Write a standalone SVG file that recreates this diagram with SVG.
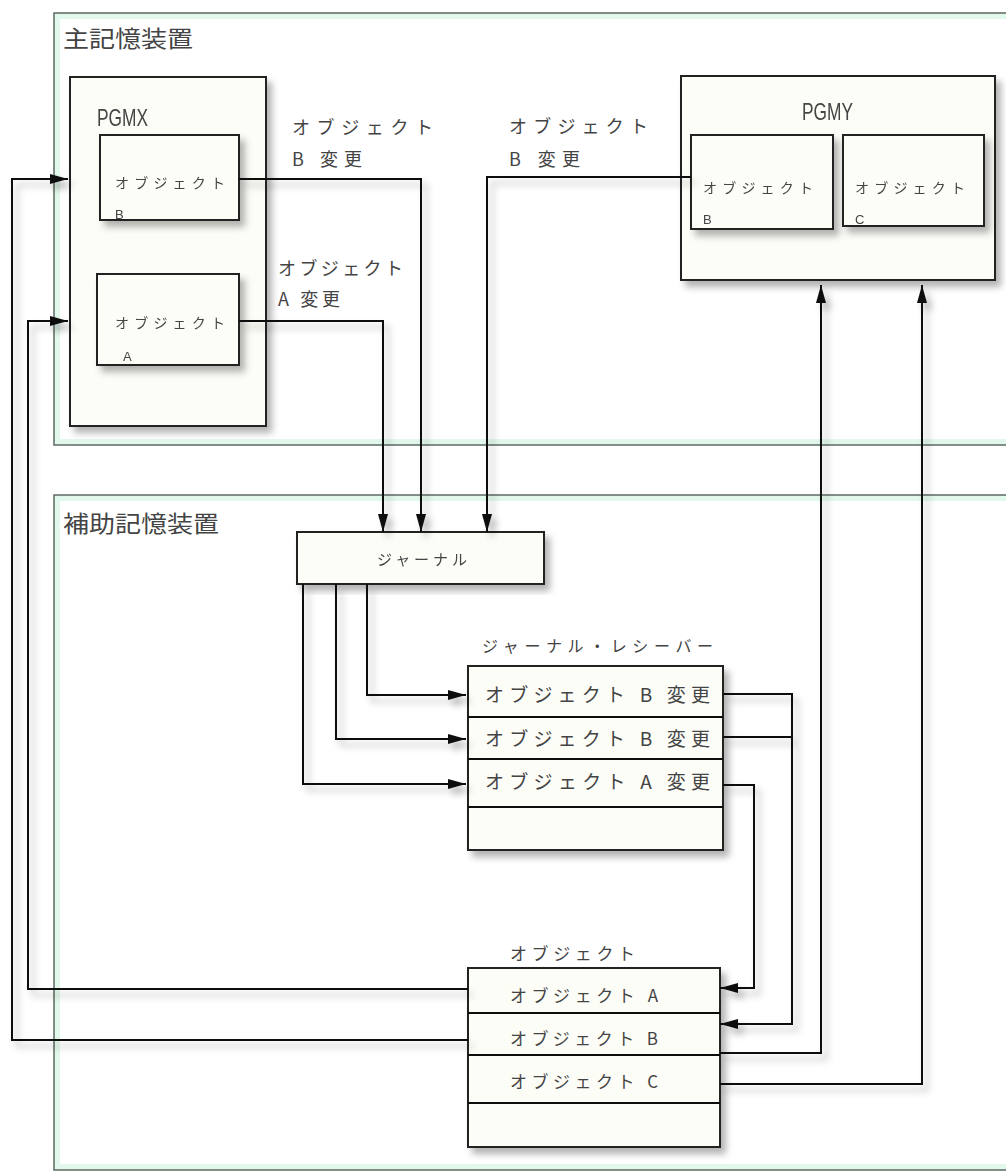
<svg xmlns="http://www.w3.org/2000/svg" width="1006" height="1174" viewBox="0 0 1006 1174">
<defs>
<filter id="sh" x="-10%" y="-10%" width="130%" height="130%">
<feDropShadow dx="5" dy="6" stdDeviation="3.5" flood-color="#000" flood-opacity="0.3"/>
</filter>
<marker id="arr" markerUnits="userSpaceOnUse" markerWidth="20" markerHeight="12" refX="18" refY="5" orient="auto">
<path d="M0,0 L18,5 L0,10 z" fill="#111"/>
</marker>
<style>
.area{fill:none;stroke:#e2f8ec;stroke-width:6}
.areal{fill:none;stroke:#5e6a62;stroke-width:1.5}
.box{fill:#fdfdf8;stroke:#222;stroke-width:2}
.ln{fill:none;stroke:#111;stroke-width:2}
.t{font-family:"Noto Sans CJK JP","Liberation Sans",sans-serif;fill:#444;font-weight:400;dominant-baseline:central}
.l{font-family:"Liberation Sans","Noto Sans CJK JP",sans-serif;fill:#444}
</style>
</defs>
<rect width="1006" height="1174" fill="#fff"/>

<g id="main-storage">
<rect class="area" x="57" y="16" width="1000" height="426"/>
<rect class="areal" x="54" y="13" width="1006" height="432"/>
<text class="t" x="63" y="37" font-size="23" textLength="130" lengthAdjust="spacingAndGlyphs">主記憶装置</text>
</g>
<g id="aux-storage">
<rect class="area" x="57" y="498" width="1000" height="669"/>
<rect class="areal" x="54" y="495" width="1006" height="675"/>
<text class="t" x="63" y="522" font-size="23" textLength="156" lengthAdjust="spacingAndGlyphs">補助記憶装置</text>
</g>

<g id="pgmx" filter="url(#sh)">
<rect class="box" x="70" y="77" width="196" height="349"/>
<text class="l" x="97" y="126" font-size="24" textLength="51" lengthAdjust="spacingAndGlyphs">PGMX</text>
</g>
<g id="pgmx-objb" filter="url(#sh)">
<rect class="box" x="100" y="135" width="139" height="85"/>
<text class="t" x="115" y="182" font-size="14" textLength="110" lengthAdjust="spacing">オブジェクト</text>
<text class="l" x="115" y="219" font-size="13">B</text>
</g>
<g id="pgmx-obja" filter="url(#sh)">
<rect class="box" x="97" y="274" width="142" height="91"/>
<text class="t" x="115" y="322" font-size="14" textLength="110" lengthAdjust="spacing">オブジェクト</text>
<text class="l" x="123" y="361" font-size="13">A</text>
</g>

<g id="pgmy" filter="url(#sh)">
<rect class="box" x="681" y="76" width="314" height="204"/>
<text class="l" x="802" y="120" font-size="24" textLength="51" lengthAdjust="spacingAndGlyphs">PGMY</text>
</g>
<g id="pgmy-objb" filter="url(#sh)">
<rect class="box" x="691" y="135" width="142" height="94"/>
<text class="t" x="703" y="187" font-size="14" textLength="110" lengthAdjust="spacing">オブジェクト</text>
<text class="l" x="703" y="224" font-size="13">B</text>
</g>
<g id="pgmy-objc" filter="url(#sh)">
<rect class="box" x="843" y="135" width="141" height="91"/>
<text class="t" x="855" y="187" font-size="14" textLength="110" lengthAdjust="spacing">オブジェクト</text>
<text class="l" x="855" y="224" font-size="13">C</text>
</g>

<g id="journal" filter="url(#sh)">
<rect class="box" x="297" y="532" width="247" height="52"/>
<text class="t" x="377" y="558" font-size="15" textLength="90" lengthAdjust="spacing">ジャーナル</text>
</g>

<g id="receiver">
<text class="t" x="482" y="645" font-size="16" textLength="231" lengthAdjust="spacing">ジャーナル・レシーバー</text>
<g filter="url(#sh)">
<rect class="box" x="468" y="666" width="255" height="184"/>
<line class="ln" x1="468" y1="717" x2="723" y2="717"/>
<line class="ln" x1="468" y1="759" x2="723" y2="759"/>
<line class="ln" x1="468" y1="807" x2="723" y2="807"/>
</g>
<text class="t" x="485" y="693" font-size="19" textLength="225" lengthAdjust="spacing">オブジェクト B 変更</text>
<text class="t" x="485" y="737" font-size="19" textLength="225" lengthAdjust="spacing">オブジェクト B 変更</text>
<text class="t" x="485" y="780" font-size="19" textLength="225" lengthAdjust="spacing">オブジェクト A 変更</text>
</g>

<g id="objects">
<text class="t" x="510" y="952" font-size="17" textLength="125" lengthAdjust="spacing">オブジェクト</text>
<g filter="url(#sh)">
<rect class="box" x="468" y="968" width="252" height="179"/>
<line class="ln" x1="468" y1="1013" x2="720" y2="1013"/>
<line class="ln" x1="468" y1="1055" x2="720" y2="1055"/>
<line class="ln" x1="468" y1="1103" x2="720" y2="1103"/>
</g>
<text class="t" x="510" y="994" font-size="17" textLength="148" lengthAdjust="spacing">オブジェクト A</text>
<text class="t" x="510" y="1037" font-size="17" textLength="148" lengthAdjust="spacing">オブジェクト B</text>
<text class="t" x="510" y="1080" font-size="17" textLength="148" lengthAdjust="spacing">オブジェクト C</text>
</g>

<g id="labels">
<text class="t" x="292" y="126" font-size="18" textLength="141" lengthAdjust="spacing">オブジェクト</text>
<text class="t" x="292" y="158" font-size="18" textLength="70" lengthAdjust="spacing">B 変更</text>
<text class="t" x="278" y="267" font-size="18" textLength="125" lengthAdjust="spacing">オブジェクト</text>
<text class="t" x="278" y="298" font-size="18" textLength="62" lengthAdjust="spacing">A 変更</text>
<text class="t" x="509" y="125" font-size="18" textLength="139" lengthAdjust="spacing">オブジェクト</text>
<text class="t" x="509" y="158" font-size="18" textLength="71" lengthAdjust="spacing">B 変更</text>
</g>

<g id="connectors" filter="url(#sh)">
<polyline class="ln" points="239,179 421,179 421,532" marker-end="url(#arr)"/>
<polyline class="ln" points="239,321 383,321 383,532" marker-end="url(#arr)"/>
<polyline class="ln" points="691,177 487,177 487,532" marker-end="url(#arr)"/>
<polyline class="ln" points="367,584 367,695 466,695" marker-end="url(#arr)"/>
<polyline class="ln" points="336,584 336,739 466,739" marker-end="url(#arr)"/>
<polyline class="ln" points="303,584 303,784 466,784" marker-end="url(#arr)"/>
<polyline class="ln" points="723,694 792,694 792,1024 720,1024" marker-end="url(#arr)"/>
<polyline class="ln" points="723,737 792,737"/>
<polyline class="ln" points="723,785 754,785 754,988 720,988" marker-end="url(#arr)"/>
<polyline class="ln" points="468,989 28,989 28,321 68,321" marker-end="url(#arr)"/>
<polyline class="ln" points="468,1040 12,1040 12,179 68,179" marker-end="url(#arr)"/>
<polyline class="ln" points="720,1053 821,1053 821,285" marker-end="url(#arr)"/>
<polyline class="ln" points="720,1084 922,1084 922,285" marker-end="url(#arr)"/>
</g>
</svg>
